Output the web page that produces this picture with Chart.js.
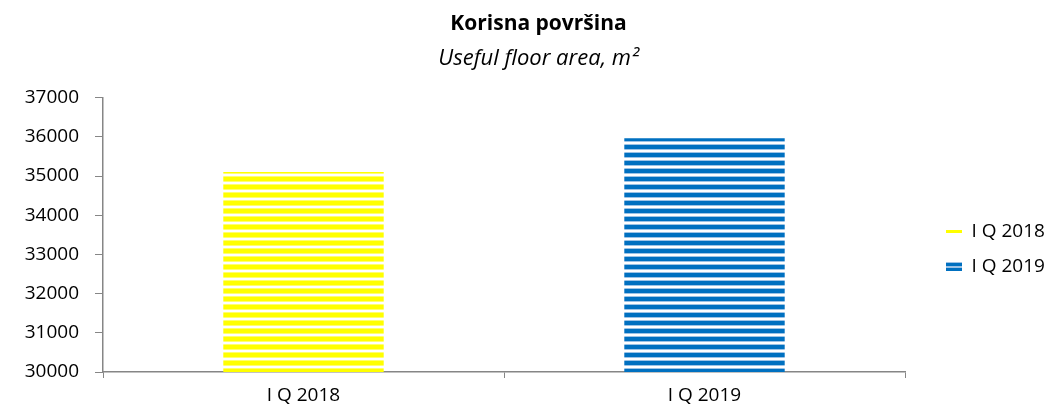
<!DOCTYPE html>
<html>
<head>
<meta charset="utf-8">
<script src="https://cdn.jsdelivr.net/npm/chart.js@4.4.0/dist/chart.umd.min.js"></script>
<style>
html, body { margin: 0; padding: 0; background: #fff; }
#wrap { width: 1061px; height: 408px; }
</style>
</head>
<body>
<div id="wrap"><canvas id="bar-chart"></canvas></div>
<script>
var categories = ["I Q 2018", "I Q 2019"];
var values = [35100, 35960];
var yTicks = [30000, 31000, 32000, 33000, 34000, 35000, 36000, 37000];

// striped fills like the excel pattern (8px period)
function stripes(core, edge, top, h) {
	var c = document.createElement("canvas");
	c.width = 8; c.height = 8;
	var x = c.getContext("2d");
	x.fillStyle = "#ffffff";
	x.fillRect(0, 0, 8, 8);
	x.fillStyle = edge;
	x.fillRect(0, top - 1, 8, h + 2);
	x.fillStyle = core;
	x.fillRect(0, top, 8, h);
	return x.createPattern(c, "repeat");
}
// little legend markers
function marker(rows) {
	var c = document.createElement("canvas");
	c.width = 16; c.height = 9;
	var x = c.getContext("2d");
	rows.forEach(function (r) {
		x.fillStyle = r[2];
		x.fillRect(0, r[0], 16, r[1]);
	});
	return c;
}

var grafic = document.getElementById("bar-chart").getContext("2d");
var yellow = stripes("#ffff00", "#ffff70", 1, 4);
var blue = stripes("#0070c0", "#9dc3e6", 1, 4);
var markers = [
	marker([[3, 3, "#ffff00"]]),
	marker([[0, 1, "#9dc3e6"], [1, 3, "#0070c0"], [4, 1, "#9dc3e6"], [5, 1, "#9dc3e6"], [6, 3, "#0070c0"]])
];

var font = "'Open Sans', sans-serif";

// fix legend width so the plot ends where it does in the picture
var legendFix = {
	id: 'legendFix',
	beforeInit: function (chart) {
		var fit = chart.legend.fit;
		chart.legend.fit = function () {
			fit.call(this);
			this.width = 156;
		};
	},
	afterLayout: function (chart) {
		chart.legend.left += 25;
		chart.legend.top += 45;
		chart.legend.bottom += 45;
	}
};

var myBarChart = new Chart(grafic, {
	type: 'bar',
	data: {
		labels: categories,
		datasets: [{
			data: values,
			backgroundColor: [yellow, blue],
			borderWidth: 0,
			categoryPercentage: 0.4,
			barPercentage: 1
		}]
	},
	plugins: [legendFix],
	options: {
		responsive: true,
		maintainAspectRatio: false,
		animation: false,
		layout: { padding: { left: 16, right: 0, top: 0, bottom: 0 } },
		plugins: {
			title: {
				display: true,
				text: "Korisna površina",
				color: "#000",
				font: { family: font, size: 21, weight: "bold" },
				padding: { top: 11, bottom: 4 }
			},
			subtitle: {
				display: true,
				text: "Useful floor area, m²",
				color: "#000",
				font: { family: font, size: 22, style: "italic" },
				padding: { top: 5, bottom: 26 }
			},
			legend: {
				position: 'right',
				labels: {
					color: "#000",
					font: { family: font, size: 19 },
					usePointStyle: true,
					pointStyleWidth: 16,
					padding: 16,
					generateLabels: function (chart) {
						return categories.map(function (c, i) {
							return { text: c, pointStyle: markers[i], fillStyle: "transparent", strokeStyle: "transparent", lineWidth: 0, index: i };
						});
					}
				}
			},
			tooltip: { enabled: false }
		},
		scales: {
			x: {
				afterFit: function (axis) { axis.height = 36; },
				grid: { display: true, drawOnChartArea: false, color: "#868686", tickLength: 6, offset: true },
				border: { color: "#868686", width: 1.5 },
				ticks: { color: "#000", font: { family: font, size: 19 }, padding: 6 }
			},
			y: {
				min: yTicks[0],
				max: yTicks[yTicks.length - 1],
				afterBuildTicks: function (axis) {
					axis.ticks = yTicks.map(function (v) { return { value: v }; });
				},
				afterFit: function (axis) { axis.width = 87; },
				grid: { display: true, drawOnChartArea: false, color: "#868686", tickLength: 8 },
				border: { color: "#868686", width: 1.5 },
				ticks: {
					color: "#000",
					font: { family: font, size: 19 },
					padding: 16,
					callback: function (v) { return String(v); }
				}
			}
		}
	}
});
</script>
</body>
</html>
